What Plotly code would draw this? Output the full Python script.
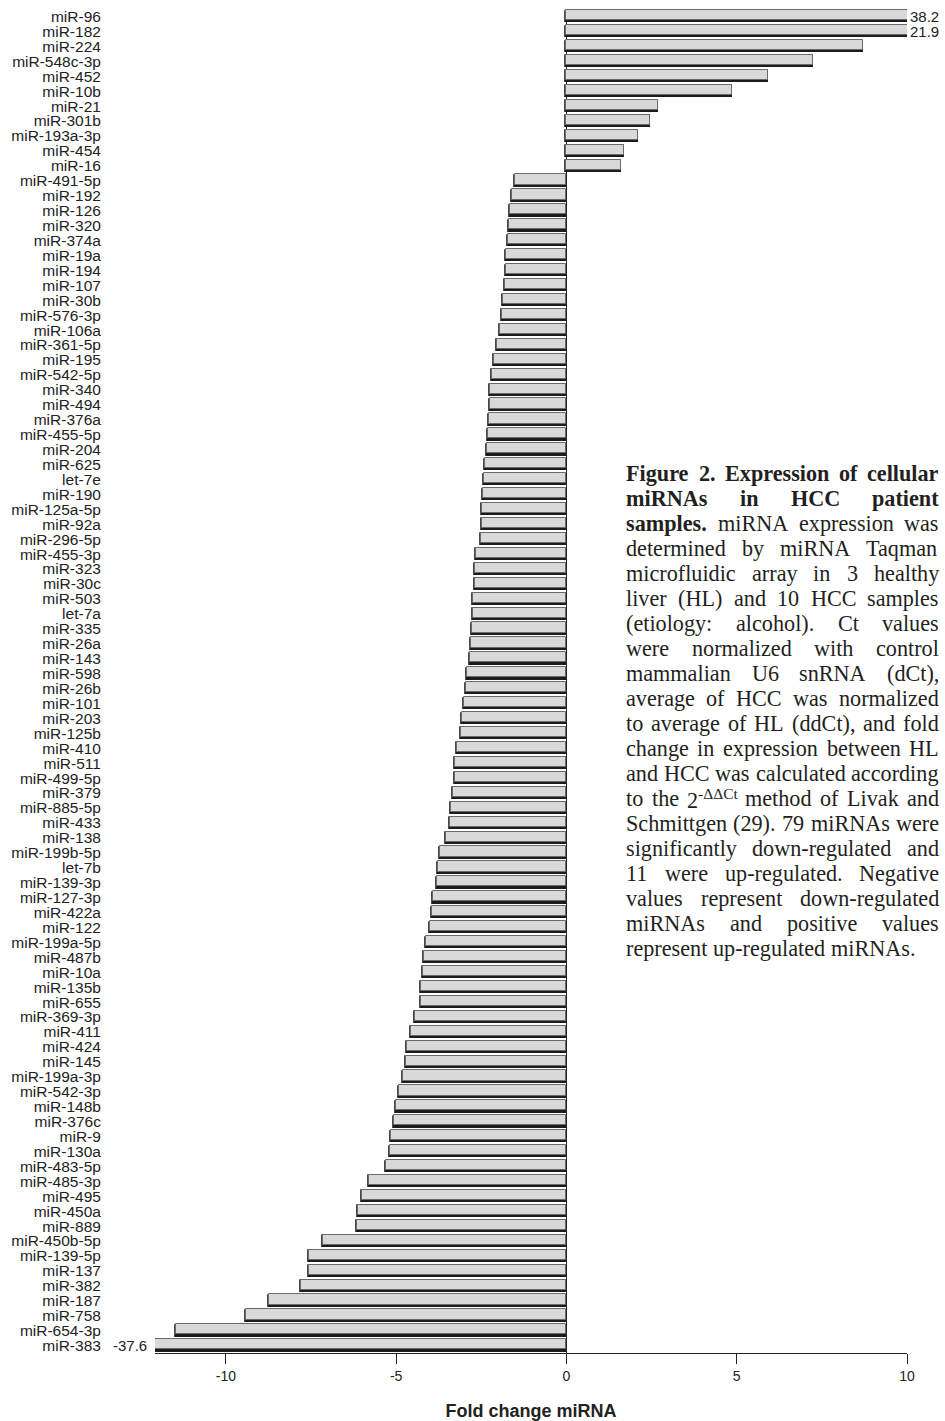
import plotly.graph_objects as go

# ---------------- data ----------------
mirna = [
    "miR-96", "miR-182", "miR-224", "miR-548c-3p", "miR-452", "miR-10b", "miR-21",
    "miR-301b", "miR-193a-3p", "miR-454", "miR-16", "miR-491-5p", "miR-192", "miR-126",
    "miR-320", "miR-374a", "miR-19a", "miR-194", "miR-107", "miR-30b", "miR-576-3p",
    "miR-106a", "miR-361-5p", "miR-195", "miR-542-5p", "miR-340", "miR-494", "miR-376a",
    "miR-455-5p", "miR-204", "miR-625", "let-7e", "miR-190", "miR-125a-5p", "miR-92a",
    "miR-296-5p", "miR-455-3p", "miR-323", "miR-30c", "miR-503", "let-7a", "miR-335",
    "miR-26a", "miR-143", "miR-598", "miR-26b", "miR-101", "miR-203", "miR-125b",
    "miR-410", "miR-511", "miR-499-5p", "miR-379", "miR-885-5p", "miR-433", "miR-138",
    "miR-199b-5p", "let-7b", "miR-139-3p", "miR-127-3p", "miR-422a", "miR-122",
    "miR-199a-5p", "miR-487b", "miR-10a", "miR-135b", "miR-655", "miR-369-3p", "miR-411",
    "miR-424", "miR-145", "miR-199a-3p", "miR-542-3p", "miR-148b", "miR-376c", "miR-9",
    "miR-130a", "miR-483-5p", "miR-485-3p", "miR-495", "miR-450a", "miR-889",
    "miR-450b-5p", "miR-139-5p", "miR-137", "miR-382", "miR-187", "miR-758",
    "miR-654-3p", "miR-383",
]
fold_change = [
    38.2, 21.9, 8.72, 7.23, 5.93, 4.86, 2.70,
    2.46, 2.11, 1.69, 1.60, -1.52, -1.61, -1.67,
    -1.68, -1.71, -1.76, -1.77, -1.80, -1.87, -1.88,
    -1.94, -2.05, -2.13, -2.18, -2.24, -2.25, -2.28,
    -2.29, -2.32, -2.39, -2.43, -2.46, -2.47, -2.47,
    -2.52, -2.66, -2.67, -2.68, -2.73, -2.74, -2.76,
    -2.80, -2.84, -2.91, -2.96, -3.00, -3.07, -3.11,
    -3.22, -3.26, -3.26, -3.33, -3.38, -3.41, -3.53,
    -3.72, -3.77, -3.81, -3.92, -3.96, -4.00,
    -4.11, -4.18, -4.22, -4.26, -4.26, -4.46, -4.56,
    -4.69, -4.72, -4.80, -4.91, -5.00, -5.07, -5.15,
    -5.19, -5.31, -5.80, -6.00, -6.12, -6.16,
    -7.16, -7.55, -7.55, -7.80, -8.73, -9.40,
    -11.46, -37.6,
]
x_tick_values = [-10, -5, 0, 5, 10]
x_tick_labels = ["-10", "-5", "0", "5", "10"]
x_range = [-12.08, 10]
axis_title = "Fold change miRNA"

caption_lines = [
    "Figure 2. Expression of cellular",
    "miRNAs in HCC patient",
    "samples. miRNA expression was",
    "determined by miRNA Taqman",
    "microfluidic array in 3 healthy",
    "liver (HL) and 10 HCC samples",
    "(etiology: alcohol). Ct values",
    "were normalized with control",
    "mammalian U6 snRNA (dCt),",
    "average of HCC was normalized",
    "to average of HL (ddCt), and fold",
    "change in expression between HL",
    "and HCC was calculated according",
    "to the 2<sup>-\u0394\u0394Ct</sup> method of Livak and",
    "Schmittgen (29). 79 miRNAs were",
    "significantly down-regulated and",
    "11 were up-regulated. Negative",
    "values represent down-regulated",
    "miRNAs and positive values",
    "represent up-regulated miRNAs.",
]
caption_bold_words = [5, 4, 1] + [0] * 17

# ---------------- layout geometry ----------------
W, H = 945, 1421
ML, MR, MT, MB = 155, 38, 9, 68
PW, PH = W - ML - MR, H - MT - MB

# Times-metric widths (per 1000 em) for the caption (Liberation Serif)
TR = {' ': 250, '!': 333, '(': 333, ')': 333, ',': 250, '-': 333, '.': 250, ':': 278,
      '\u0394': 612}
for d in "0123456789":
    TR[d] = 500
TR.update(dict(zip("ABCDEFGHIJKLMNOPQRSTUVWXYZ",
                   [722, 667, 667, 722, 611, 556, 722, 722, 333, 389, 722, 611, 889,
                    722, 722, 556, 722, 667, 556, 611, 722, 722, 944, 722, 722, 611])))
TR.update(dict(zip("abcdefghijklmnopqrstuvwxyz",
                   [444, 500, 444, 500, 444, 333, 500, 500, 278, 278, 500, 278, 778,
                    500, 500, 500, 500, 333, 389, 278, 500, 500, 722, 500, 500, 444])))
TB = {' ': 250, '.': 250, ',': 250, '-': 333}
for d in "0123456789":
    TB[d] = 500
TB.update(dict(zip("ABCDEFGHIJKLMNOPQRSTUVWXYZ",
                   [722, 667, 722, 722, 667, 611, 778, 778, 389, 500, 778, 667, 944,
                    722, 778, 611, 778, 722, 556, 667, 722, 722, 1000, 722, 722, 667])))
TB.update(dict(zip("abcdefghijklmnopqrstuvwxyz",
                   [500, 556, 444, 556, 444, 333, 500, 556, 278, 333, 556, 278, 833,
                    556, 500, 556, 556, 444, 389, 333, 556, 500, 722, 500, 500, 444])))


def word_em(word, bold):
    table = TB if bold else TR
    total, scale, i = 0.0, 1.0, 0
    while i < len(word):
        if word.startswith("<sup>", i):
            scale = 0.7
            i += 5
            continue
        if word.startswith("</sup>", i):
            scale = 1.0
            i += 6
            continue
        total += table.get(word[i], 500) * scale
        i += 1
    return total / 1000.0


CAP_X0, CAP_X1 = 625, 938
CAP_W = CAP_X1 - CAP_X0
CAP_Y0, CAP_DY = 473, 25.05

parsed = []
for line, nb in zip(caption_lines, caption_bold_words):
    words = line.split(" ")
    parsed.append([(w, i < nb) for i, w in enumerate(words)])

fs_cands = []
for words in parsed[:-1]:
    em = sum(word_em(w, b) for w, b in words) + 0.25 * (len(words) - 1)
    fs_cands.append(CAP_W / em)
cap_fs = round(min(fs_cands) - 0.05, 1)


def px_to_paper_x(px):
    return (px - ML) / PW


def px_to_paper_y(py):
    return (H - MB - py) / PH


annotations = []
for k, words in enumerate(parsed):
    widths = [word_em(w, b) * cap_fs for w, b in words]
    last = (k == len(parsed) - 1)
    if last or len(words) == 1:
        gap = 0.25 * cap_fs
    else:
        gap = (CAP_W - sum(widths)) / (len(words) - 1)
    xpos = CAP_X0
    ypx = CAP_Y0 + CAP_DY * k
    for (w, b), wd in zip(words, widths):
        annotations.append(dict(
            text=f"<b>{w}</b>" if b else w,
            xref="paper", yref="paper",
            x=px_to_paper_x(xpos), y=px_to_paper_y(ypx),
            xanchor="left", yanchor="middle",
            showarrow=False, borderpad=0,
            font=dict(family="Liberation Serif, Times New Roman, serif",
                      size=cap_fs, color="#231f20"),
        ))
        xpos += wd + gap

# labels for bars running beyond the axis range
pos = list(range(len(mirna)))
for p, v in zip(pos, fold_change):
    if v > x_range[1]:
        annotations.append(dict(text=f"{v:g}", xref="paper", yref="y", x=1, y=p,
                                xanchor="left", yanchor="middle", xshift=2,
                                showarrow=False, borderpad=0,
                                font=dict(size=15, color="#222222")))
    elif v < x_range[0]:
        annotations.append(dict(text=f"{v:g}", xref="paper", yref="y", x=0, y=p,
                                xanchor="right", yanchor="middle", xshift=-7,
                                showarrow=False, borderpad=0,
                                font=dict(size=15, color="#222222")))

fig = go.Figure()
# dark "shadow" edge under each bar
fig.add_trace(go.Bar(
    y=pos, x=fold_change, orientation="h", width=0.72, offset=-0.32,
    marker=dict(color="#1c1c1c", line=dict(color="#1c1c1c", width=1.8)),
    hoverinfo="skip", showlegend=False,
))
# light grey bar face
fig.add_trace(go.Bar(
    y=pos, x=fold_change, orientation="h", width=0.68, offset=-0.42,
    marker=dict(color="#d9d9d9", line=dict(color="#6a6a6a", width=1)),
    showlegend=False, name="Fold change",
))

fig.update_layout(
    width=W, height=H,
    margin=dict(l=ML, r=MR, t=MT, b=MB, autoexpand=False),
    paper_bgcolor="white", plot_bgcolor="white",
    barmode="overlay", bargap=0,
    font=dict(family="Liberation Sans, Arial, sans-serif", color="#222222"),
    annotations=annotations,
    showlegend=False,
)
fig.update_xaxes(
    range=x_range, tickvals=x_tick_values, ticktext=x_tick_labels,
    ticks="outside", ticklen=10, tickcolor="#222222", tickwidth=1,
    showline=True, linecolor="#222222", linewidth=1,
    zeroline=True, zerolinecolor="#222222", zerolinewidth=1,
    showgrid=False, tickfont=dict(size=14),
    title=dict(text=f"<b>{axis_title}</b>", font=dict(size=18), standoff=25),
    automargin=False,
)
fig.update_yaxes(
    range=[len(mirna) - 0.5, -0.5], tickvals=pos, ticktext=mirna,
    ticks="outside", ticklen=50, tickcolor="rgba(0,0,0,0)",
    showline=False, showgrid=False, zeroline=False,
    tickfont=dict(size=15.5), automargin=False,
)

fig.write_html(
    "out.html",
    config={"displayModeBar": False},
    post_script="document.body.style.margin='0';document.body.style.padding='0';",
)
